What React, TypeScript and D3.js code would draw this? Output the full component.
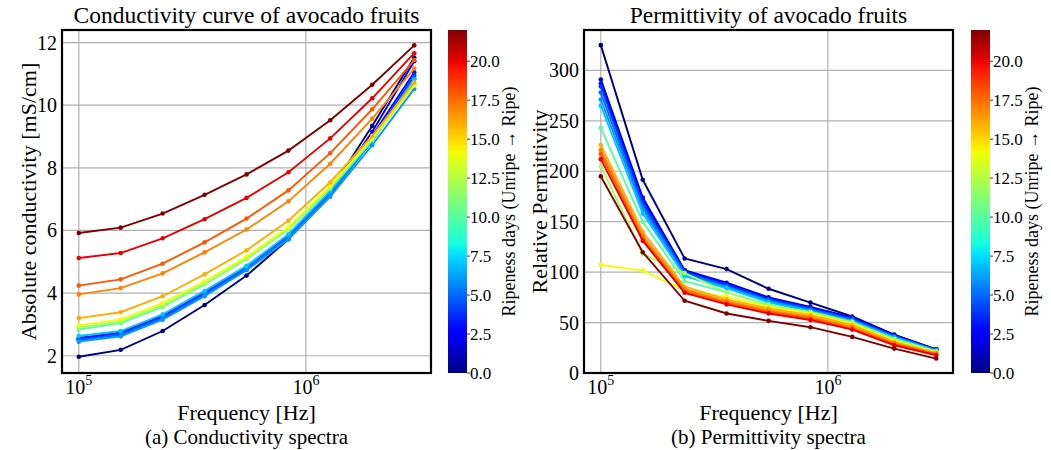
import React from 'react';
import * as d3 from 'd3';

// measurement frequencies (Hz), 9 log-spaced points
const freqs = [1e5, 1.53e5, 2.34e5, 3.58e5, 5.48e5, 8.38e5, 1.28e6, 1.96e6, 3e6];

// ripeness day of every fruit measurement
const days = [0, 2, 3, 4, 5, 6, 7, 10, 12, 14, 16, 17, 18, 20, 22];

// absolute conductivity [mS/cm], one row per day
const conductivity = [
  [1.97, 2.19, 2.79, 3.62, 4.56, 5.72, 7.26, 9.34, 11.52],
  [2.55, 2.72, 3.25, 4.0, 4.82, 5.82, 7.22, 9.15, 11.4],
  [2.57, 2.74, 3.27, 4.02, 4.84, 5.84, 7.22, 9.02, 11.05],
  [2.52, 2.7, 3.22, 3.97, 4.8, 5.8, 7.18, 8.92, 10.95],
  [2.5, 2.67, 3.2, 3.95, 4.78, 5.78, 7.15, 8.85, 10.85],
  [2.45, 2.62, 3.15, 3.9, 4.73, 5.72, 7.08, 8.72, 10.52],
  [2.63, 2.79, 3.32, 4.07, 4.87, 5.88, 7.26, 8.86, 10.83],
  [2.84, 3.04, 3.56, 4.28, 5.08, 6.04, 7.34, 8.89, 10.68],
  [2.9, 3.1, 3.61, 4.31, 5.1, 6.06, 7.37, 8.91, 10.62],
  [2.97, 3.16, 3.68, 4.38, 5.16, 6.11, 7.42, 8.96, 10.64],
  [3.2, 3.39, 3.9, 4.6, 5.37, 6.31, 7.54, 9.02, 10.72],
  [3.96, 4.16, 4.63, 5.3, 6.03, 6.93, 8.13, 9.57, 11.17],
  [4.24, 4.44, 4.94, 5.62, 6.38, 7.28, 8.47, 9.87, 11.44],
  [5.12, 5.28, 5.75, 6.36, 7.04, 7.86, 8.94, 10.22, 11.66],
  [5.92, 6.09, 6.54, 7.14, 7.79, 8.55, 9.52, 10.65, 11.91],
];

// relative permittivity, one row per day
const permittivity = [
  [325, 191.5, 113.5, 103, 83.5, 69.8, 56, 38, 23.5],
  [291, 174, 102, 89.5, 75, 65.5, 55, 37.5, 23.5],
  [287, 171, 101, 88, 74, 64.5, 54, 37, 23],
  [284, 168, 100, 87, 73, 64, 53.5, 36.5, 23],
  [278, 165, 99, 86, 72, 63, 53, 36, 22.5],
  [271, 162, 97, 85, 71, 62, 52, 35.5, 22.5],
  [265, 158, 96, 84, 70, 61, 51.5, 35, 22],
  [243, 150, 91, 80, 68, 59, 49.5, 34, 21.5],
  [205, 118, 99, 80, 67, 60.5, 50.5, 33, 21],
  [107, 101.5, 82, 75.5, 65.5, 59, 49, 32, 20.3],
  [226, 140, 85.5, 73, 64, 57.4, 47.4, 30.8, 19.9],
  [221, 136, 83, 71, 62, 55.5, 45.5, 29.5, 19],
  [217, 133, 81, 69.5, 60.5, 54, 44, 28.5, 18.3],
  [212, 131, 79.5, 68, 59, 52.5, 43, 27.5, 17.6],
  [195, 119.7, 71.6, 59, 51.7, 45.4, 35.8, 24.2, 14.3],
];

const condTicks = [2, 4, 6, 8, 10, 12];
const permTicks = [0, 50, 100, 150, 200, 250, 300];
const cbarTicks = [0, 2.5, 5, 7.5, 10, 12.5, 15, 17.5, 20];
const dayMax = 22;

const FONT = '"Liberation Serif", "Times New Roman", serif';

// matplotlib jet colormap
const jetSeg = {
  r: [[0, 0], [0.35, 0], [0.66, 1], [0.89, 1], [1, 0.5]],
  g: [[0, 0], [0.125, 0], [0.375, 1], [0.64, 1], [0.91, 0], [1, 0]],
  b: [[0, 0.5], [0.11, 1], [0.34, 1], [0.65, 0], [1, 0]],
};
function interpSeg(seg: number[][], t: number) {
  for (let i = 1; i < seg.length; i++) {
    if (t <= seg[i][0]) {
      const [x0, y0] = seg[i - 1];
      const [x1, y1] = seg[i];
      return y0 + ((t - x0) / (x1 - x0)) * (y1 - y0);
    }
  }
  return seg[seg.length - 1][1];
}
function jet(t: number) {
  t = Math.max(0, Math.min(1, t));
  return d3.rgb(
    255 * interpSeg(jetSeg.r, t),
    255 * interpSeg(jetSeg.g, t),
    255 * interpSeg(jetSeg.b, t)
  ).formatHex();
}
const colorOf = (d: number) => jet(d / dayMax);

type PanelProps = {
  x0: number; x1: number; y0: number; y1: number;
  yDomain: [number, number];
  yTicks: number[];
  values: number[][];
  title: string;
  ylabel: string;
  ylabelX: number;
  caption: string;
  cbarX: number;
  gid: string;
};

function Panel(p: PanelProps) {
  const xs = d3.scaleLog().domain([Math.pow(10, 4.926), Math.pow(10, 6.551)]).range([p.x0, p.x1]);
  const ys = d3.scaleLinear().domain(p.yDomain).range([p.y1, p.y0]);
  const line = d3.line<number>().x((_, i) => xs(freqs[i])).y(v => ys(v));
  const cx = (p.x0 + p.x1) / 2;
  const cy = (p.y0 + p.y1) / 2;

  const cs = d3.scaleLinear().domain([0, dayMax]).range([p.y1, p.y0]);
  const stops = d3.range(0, 1.0001, 0.02);
  const cbW = 19;

  return (
    <g fontFamily={FONT}>
      <defs>
        <clipPath id={`clip-${p.gid}`}>
          <rect x={p.x0} y={p.y0} width={p.x1 - p.x0} height={p.y1 - p.y0} />
        </clipPath>
        <linearGradient id={`grad-${p.gid}`} x1="0" y1="1" x2="0" y2="0">
          {stops.map(s => <stop key={s} offset={s} stopColor={jet(s)} />)}
        </linearGradient>
      </defs>
      {/* grid */}
      {[1e5, 1e6].map(f => (
        <line key={f} x1={xs(f)} x2={xs(f)} y1={p.y0} y2={p.y1} stroke="#b0b0b0" strokeWidth={1.2} />
      ))}
      {p.yTicks.map(t => (
        <line key={t} x1={p.x0} x2={p.x1} y1={ys(t)} y2={ys(t)} stroke="#b0b0b0" strokeWidth={1.2} />
      ))}
      {/* series */}
      <g clipPath={`url(#clip-${p.gid})`}>
        {p.values.map((row, k) => (
          <g key={k}>
            <path d={line(row) || ''} fill="none" stroke={colorOf(days[k])} strokeWidth={1.9} />
            {row.map((v, i) => (
              <circle key={i} cx={xs(freqs[i])} cy={ys(v)} r={2.3} fill={colorOf(days[k])} />
            ))}
          </g>
        ))}
      </g>
      {/* frame */}
      <rect x={p.x0} y={p.y0} width={p.x1 - p.x0} height={p.y1 - p.y0} fill="none" stroke="#000" strokeWidth={2.2} />
      {/* y ticks */}
      {p.yTicks.map(t => (
        <text key={t} x={p.x0 - 5} y={ys(t)} dy="0.35em" textAnchor="end" fontSize={20}>{t}</text>
      ))}
      {/* x ticks */}
      {[5, 6].map(e => (
        <text key={e} x={xs(Math.pow(10, e))} y={p.y1 + 21} textAnchor="middle" fontSize={20}>
          10<tspan dy={-9} fontSize={14}>{e}</tspan>
        </text>
      ))}
      <text x={cx} y={p.y0 - 7} textAnchor="middle" fontSize={23.5}>{p.title}</text>
      <text transform={`translate(${p.ylabelX},${cy}) rotate(-90)`} textAnchor="middle" fontSize={22}>{p.ylabel}</text>
      <text x={cx} y={p.y1 + 47} textAnchor="middle" fontSize={22}>Frequency [Hz]</text>
      <text x={cx} y={p.y1 + 71} textAnchor="middle" fontSize={21}>{p.caption}</text>
      {/* colorbar */}
      <rect x={p.cbarX} y={p.y0} width={cbW} height={p.y1 - p.y0} fill={`url(#grad-${p.gid})`} />
      {cbarTicks.map(t => (
        <g key={t}>
          <line x1={p.cbarX + cbW} x2={p.cbarX + cbW + 3} y1={cs(t)} y2={cs(t)} stroke="#000" strokeWidth={0.8} />
          <text x={p.cbarX + cbW + 3} y={cs(t)} dy="0.35em" fontSize={17}>{t.toFixed(1)}</text>
        </g>
      ))}
      <text transform={`translate(${p.cbarX + 67},${cy}) rotate(-90)`} textAnchor="middle" fontSize={18}>
        Ripeness days (Unripe → Ripe)
      </text>
    </g>
  );
}

export default function App() {
  return (
    <svg width={1051} height={450} style={{ position: 'absolute', left: 0, top: 0, background: '#fff' }}>
      <Panel x0={62} x1={431} y0={30} y1={373} yDomain={[1.45, 12.4]} yTicks={condTicks}
        values={conductivity} title="Conductivity curve of avocado fruits"
        ylabel="Absolute conductivity [mS/cm]" ylabelX={36} caption="(a) Conductivity spectra" cbarX={448} gid="a" />
      <Panel x0={584} x1={953} y0={30} y1={373} yDomain={[0, 340]} yTicks={permTicks}
        values={permittivity} title="Permittivity of avocado fruits"
        ylabel="Relative Permittivity" ylabelX={547} caption="(b) Permittivity spectra" cbarX={971} gid="b" />
    </svg>
  );
}
